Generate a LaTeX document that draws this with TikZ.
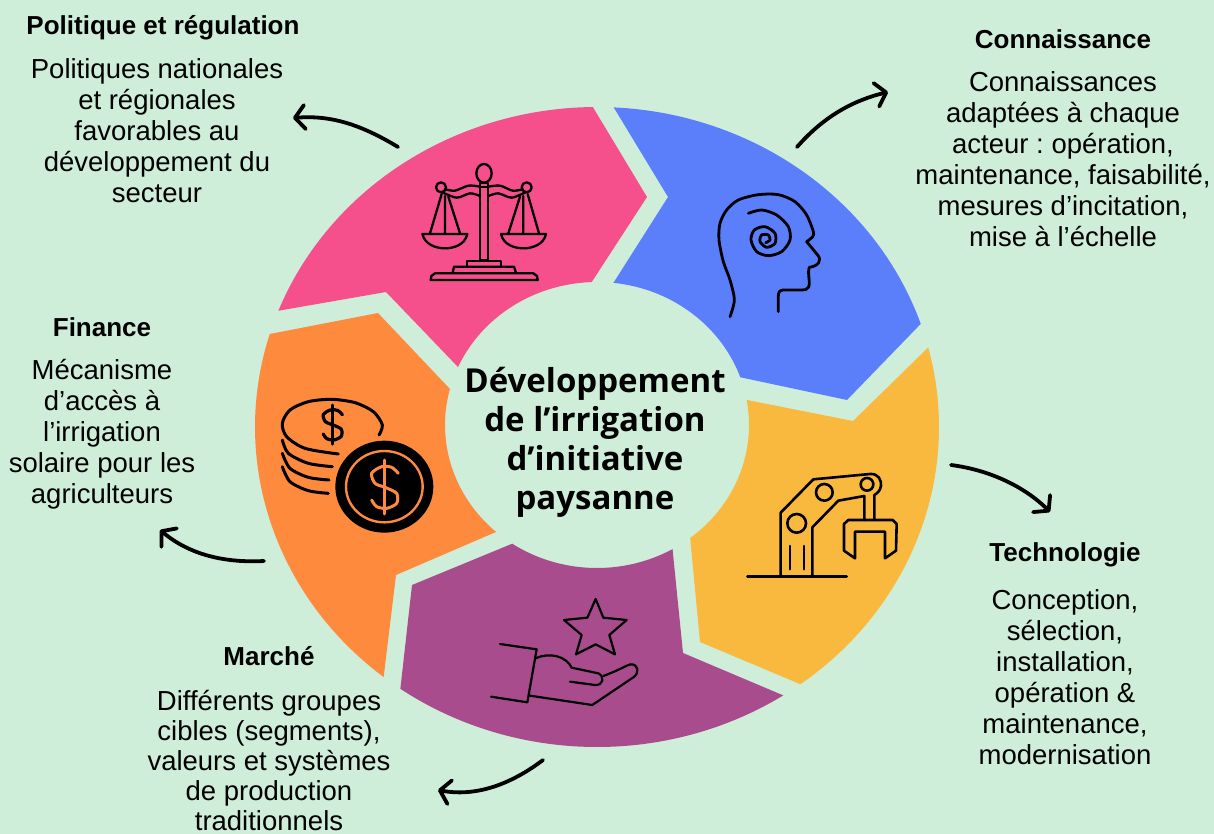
\documentclass[tikz,border=0pt]{standalone}
\usepackage{fontspec}
\setmainfont{Liberation Sans}
\newfontfamily\titlefont{Open Sans}
\usetikzlibrary{arrows.meta}
\definecolor{bg}{HTML}{CFEEDA}
\definecolor{cpink}{HTML}{F5508C}
\definecolor{cblue}{HTML}{5B7FFB}
\definecolor{cyellow}{HTML}{F9B93F}
\definecolor{cpurple}{HTML}{A94C8D}
\definecolor{corange}{HTML}{FE8A3D}
\newcommand{\oarc}[2]{({597+342*cos(#1)},{427+320*sin(#1)}) arc[start angle=#1,end angle=#2,x radius=342,y radius=320]}
\newcommand{\iarc}[2]{({597+152*cos(#1)},{425+143*sin(#1)}) arc[start angle=#1,end angle=#2,x radius=152,y radius=143]}
\newcommand{\dollarsign}[3]{%
  \begin{scope}[shift={(#1)},scale=#2]
    \draw[#3] plot[smooth] coordinates {(42,-40) (22,-58) (-8,-60) (-38,-40) (-28,-10) (2,2) (37,20) (37,50) (7,65) (-23,60) (-38,40)};
    \draw[#3] (0,-80) -- (0,82);
  \end{scope}}
\tikzset{
  icon/.style={draw=black,line width=2.3pt,line cap=round,line join=round},
  bodytext/.style={align=center,font=\fontsize{27.5}{31}\selectfont,text=black,inner sep=0pt},
  tighttext/.style={align=center,font=\fontsize{27.5}{30}\selectfont,text=black,inner sep=0pt},
  headtext/.style={font=\fontsize{26}{29}\selectfont\bfseries,text=black,inner sep=0pt},
  titletext/.style={align=center,font=\titlefont\fontsize{33}{39}\selectfont\bfseries,text=black,inner sep=0pt},
  flow/.style={draw=black,line width=3.8pt,line cap=round,-{Straight Barb[length=10pt,width=24pt,line width=3.8pt,round]}}
}
\begin{document}
\begin{tikzpicture}[x=1pt,y=1pt,yscale=-1]
\useasboundingbox (0,0) rectangle (1214,834);
\fill[bg] (0,0) rectangle (1214,834);

% ring segments
\fill[cpink] \oarc{201.3}{269.3} -- (647,197) -- \iarc{268}{203.9} -- (386,292) -- cycle;
\fill[cblue] \oarc{-87.2}{-18.8} -- (847,400) -- \iarc{-19.5}{-83.8} -- (668,197) -- cycle;
\fill[cyellow] \oarc{-14.4}{53.5} -- (700,642) -- \iarc{52.2}{-10.1} -- (853,421) -- cycle;
\fill[cpurple] \oarc{57}{125.1} -- (412,585) -- \iarc{123.9}{60.2} -- (683,653) -- cycle;
\fill[corange] \oarc{128.6}{196.9} -- (378,313) -- \iarc{194.6}{131.6} -- (396,575) -- cycle;

% scales icon
\begin{scope}[shift={(260,90)},scale=1/3]
  \draw[icon] (660,280) rectangle (685,510);
  \draw[icon] (660,290) -- (685,290);
  \draw[icon] (672,250) ellipse[x radius=23,y radius=28];
  \draw[icon] (543,292) circle[radius=15];
  \draw[icon] (800,292) circle[radius=15];
  \draw[icon] plot[smooth] coordinates {(555,298) (585,302) (625,287) (660,290)};
  \draw[icon] plot[smooth] coordinates {(545,306) (590,323) (630,310) (660,318)};
  \draw[icon] plot[smooth] coordinates {(788,298) (758,302) (720,287) (685,290)};
  \draw[icon] plot[smooth] coordinates {(798,306) (755,323) (715,310) (685,318)};
  \draw[icon] (545,312) -- (510,430) (555,318) -- (555,430) (565,320) -- (600,430);
  \draw[icon] (780,320) -- (745,430) (790,318) -- (790,430) (803,312) -- (837,430);
  \draw[icon] (487,432) -- (622,432) .. controls (615,465) and (580,475) .. (555,475) .. controls (530,475) and (495,465) .. (487,432) -- cycle;
  \draw[icon] (723,432) -- (858,432) .. controls (851,465) and (815,475) .. (790,475) .. controls (765,475) and (730,465) .. (723,432) -- cycle;
  \draw[icon] (622,527) -- (622,512) -- (722,512) -- (722,527);
  \draw[icon] (578,548) -- (582,530) -- (762,530) -- (768,548);
  \draw[icon] (512,570) -- (514,558) -- (525,550) -- (820,550) -- (831,558) -- (833,570) -- cycle;
\end{scope}

% head icon
\begin{scope}[shift={(715,190)},scale=1/3]
  \draw[icon,line width=2.8pt] plot[smooth] coordinates {(45,380) (58,330) (45,270) (25,215) (12,150) (15,100) (35,60) (70,30) (130,14) (190,14) (240,35) (275,75) (295,125) (293,140) (275,155)};
  \draw[icon,line width=2.8pt] (275,155) -- (308,195) .. controls (322,212) and (310,228) .. (283,232) .. controls (276,250) and (288,280) .. (280,292) .. controls (276,300) and (268,300) .. (260,300) -- (205,300) .. controls (193,300) and (190,308) .. (190,318) -- (190,365);
  \draw[icon,line width=2.8pt] plot[smooth] coordinates {(100,70) (140,60) (185,75) (220,110) (225,150) (200,185) (160,197) (125,185) (108,150) (118,120) (150,110) (180,130) (180,160) (155,172) (135,155) (140,135) (160,135) (165,150) (152,158)};
\end{scope}

% robot icon
\begin{scope}[shift={(680,340)},scale=1/3]
  \draw[icon,line width=2.6pt] (202,710) -- (500,710);
  \draw[icon,line width=2.6pt] (302,710) -- (302,518) -- (400,418) -- (570,402) .. controls (595,400) and (605,420) .. (603,438) .. controls (600,455) and (590,460) .. (583,465) -- (583,540);
  \draw[icon,line width=2.6pt] (397,710) -- (397,562) -- (475,482) -- (553,468) -- (553,540);
  \draw[icon,line width=2.6pt] (350,550) circle[radius=28];
  \draw[icon,line width=2.6pt] (433,457) circle[radius=25];
  \draw[icon,line width=2.6pt] (561,433) circle[radius=19];
  \draw[icon,line width=2.6pt] (330,618) -- (330,688) (372,618) -- (372,688);
  \draw[icon,line width=2.6pt] (492,632) -- (492,552) -- (505,540) -- (638,540) -- (650,552) -- (648,632) -- (615,655) -- (615,575) -- (525,575) -- (525,655) -- cycle;
\end{scope}

% hand icon
\begin{scope}[shift={(390,540)},scale=1/3]
  \draw[icon,line width=2.2pt] (617,177) -- (640,233) -- (710,240) -- (658,285) -- (675,343) -- (617,313) -- (558,343) -- (575,285) -- (522,240) -- (592,233) -- cycle;
  \draw[icon,line width=2.2pt] (330,312) -- (440,328) -- (412,487) -- (303,470);
  \draw[icon,line width=2.2pt] (420,467) -- (607,495) -- (730,412) .. controls (750,398) and (745,372) .. (722,373) .. controls (710,375) and (700,385) .. (640,408);
  \draw[icon,line width=2.2pt] (437,355) .. controls (480,335) and (530,350) .. (545,383) -- (625,400) .. controls (645,410) and (640,437) .. (615,435) -- (540,425);
\end{scope}

% coins icon
\begin{scope}[shift={(275,390)},scale=1/3]
  \draw[icon,line width=3pt] plot[smooth] coordinates {(312,135) (322,105) (295,65) (240,38) (170,28) (100,35) (45,60) (22,100) (35,140) (90,175) (190,192)};
  \draw[icon,line width=3pt] plot[smooth] coordinates {(22,150) (40,190) (100,220) (172,230)};
  \draw[icon,line width=3pt] plot[smooth] coordinates {(22,190) (45,235) (100,262) (162,270)};
  \draw[icon,line width=3pt] plot[smooth] coordinates {(22,230) (45,275) (100,302) (160,310)};
  \dollarsign{172,103}{0.72}{icon,line width=3.2pt}
  \fill[black] (328,290) ellipse[x radius=147,y radius=138];
  \draw[corange,line width=2.4pt] (328,290) ellipse[x radius=115,y radius=107];
  \dollarsign{328,290}{1}{corange,line width=3pt,line cap=round}
\end{scope}

% arrows
\coordinate (pinkstart) at (398,147);
\coordinate (pinkend) at (293,118);
\coordinate (bluestart) at (797,147);
\coordinate (blueend) at (888,92);
\coordinate (yellowstart) at (951,465);
\coordinate (yellowend) at (1050,512);
\coordinate (orangestart) at (264,561);
\coordinate (orangeend) at (160,530);
\coordinate (purplestart) at (543,760);
\coordinate (purpleend) at (438,790);
\draw[flow] (pinkstart) .. controls (360,124) and (330,115) .. (pinkend);
\draw[flow] (bluestart) .. controls (825,115) and (855,100) .. (blueend);
\draw[flow] (yellowstart) .. controls (990,470) and (1025,487) .. (yellowend);
\draw[flow] (orangestart) .. controls (225,563) and (190,555) .. (orangeend);
\draw[flow] (purplestart) .. controls (510,785) and (475,797) .. (purpleend);

% texts
\node[titletext] (centre) at (595,442) {Développement\\de l’irrigation\\d’initiative\\paysanne};
\node[headtext] (h1) at (163,28) {Politique et régulation};
\node[bodytext] (b1) at (157,131) {Politiques nationales\\et régionales\\favorables au\\développement du\\secteur};
\node[headtext] (h2) at (1063,39) {Connaissance};
\node[bodytext] (b2) at (1063,159) {Connaissances\\adaptées à chaque\\acteur :\ opération,\\maintenance, faisabilité,\\mesures d’incitation,\\mise à l’échelle};
\node[headtext] (h3) at (1065,555) {Technologie};
\node[bodytext] (b3) at (1065,677) {Conception,\\sélection,\\installation,\\opération \&\\maintenance,\\modernisation};
\node[headtext] (h4) at (102,327) {Finance};
\node[bodytext] (b4) at (102,434) {Mécanisme\\d’accès à\\l’irrigation\\solaire pour les\\agriculteurs};
\node[headtext] (h5) at (269,656) {Marché};
\node[tighttext] (b5) at (269,761) {Différents groupes\\cibles (segments),\\valeurs et systèmes\\de production\\traditionnels};
\end{tikzpicture}
\end{document}
